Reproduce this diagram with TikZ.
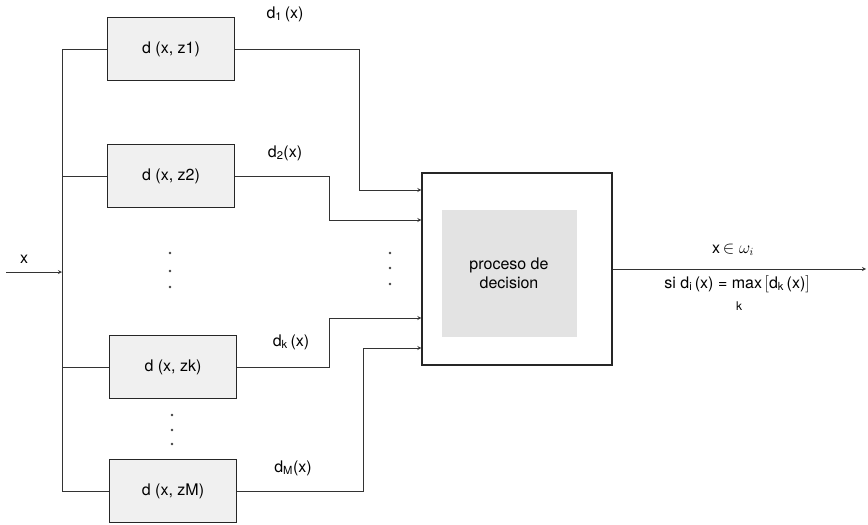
\documentclass[tikz,border=0pt]{standalone}
\usepackage{fontspec}
\setmainfont{TeX Gyre Heros}
\usetikzlibrary{arrows, positioning}

\begin{document}
\begin{tikzpicture}[
        x=1pt, y=-1pt,
        font=\fontsize{16}{19}\selectfont,
        dist/.style={rectangle, draw=black!85, very thick, fill=gray!12, minimum width=127pt, minimum height=63pt, text centered},
        decbox/.style={rectangle, draw=black!85, very thick, fill=white, minimum width=190pt, minimum height=192pt},
        inner/.style={rectangle, fill=gray!22, minimum width=135pt, minimum height=127pt, align=center},
        line/.style={thick, draw=black!80},
        arrow/.style={thick, ->, >=stealth, draw=black!80}
    ]
        \useasboundingbox (0,0) rectangle (868,525);

        % Distance blocks
        \node[dist] (z1) at (171,49) {d (x, z1)};
        \node[dist] (z2) at (171,176) {d (x, z2)};
        \node[dist] (zk) at (173,367) {d (x, zk)};
        \node[dist] (zM) at (173,491) {d (x, zM)};

        % Decision block
        \node[decbox] (dec) at (517,269) {};
        \node[inner] (decin) at (509,273) {proceso de\\decision};

        % Input and bus
        \coordinate (xin) at (6,272);
        \coordinate (bus) at (62,272);
        \node (xlab) at (24,259) {x};
        \draw[arrow] (xin) -- (bus);
        \draw[line] (z1.west) -- (z1.west -| bus) |- (zM.west);
        \draw[line] (z2.west) -- (z2.west -| bus);
        \draw[line] (zk.west) -- (zk.west -| bus);

        % Outputs to decision
        \draw[arrow] (z1.east) -- ++(124,0) |- ([yshift=79pt]dec.west);
        \draw[arrow] (z2.east) -- ++(94,0) |- ([yshift=49pt]dec.west);
        \draw[arrow] (zk.east) -- ++(92,0) |- ([yshift=-49pt]dec.west);
        \draw[arrow] (zM.east) -- ++(126,0) |- ([yshift=-79pt]dec.west);

        \node (d1) at (285,14) {d\textsubscript{1}\,(x)};
        \node (d2) at (285,153) {d\textsubscript{2}(x)};
        \node (dk) at (291,342) {d\textsubscript{k}\,(x)};
        \node (dM) at (293,468) {d\textsubscript{M}(x)};

        % Dots
        \foreach \y in {253,271,287} \fill[black!75] (170,\y) circle (1.4);
        \foreach \y in {415,430,444} \fill[black!75] (172,\y) circle (1.4);
        \foreach \y in {253,268,284} \fill[black!75] (390,\y) circle (1.4);

        % Output
        \coordinate (out) at (866,269);
        \draw[arrow] (dec.east) -- (out);
        \node (cls) at (733,250) {x\,$\in\omega_i$};
        \node (rule) at (737,284) {si d\textsubscript{i}\,(x) = max\,$\bigl[$d\textsubscript{k}\,(x)$\bigr]$};
        \node[font=\fontsize{12}{14}\selectfont] (kidx) at (739,306) {k};

\end{tikzpicture}
\end{document}
